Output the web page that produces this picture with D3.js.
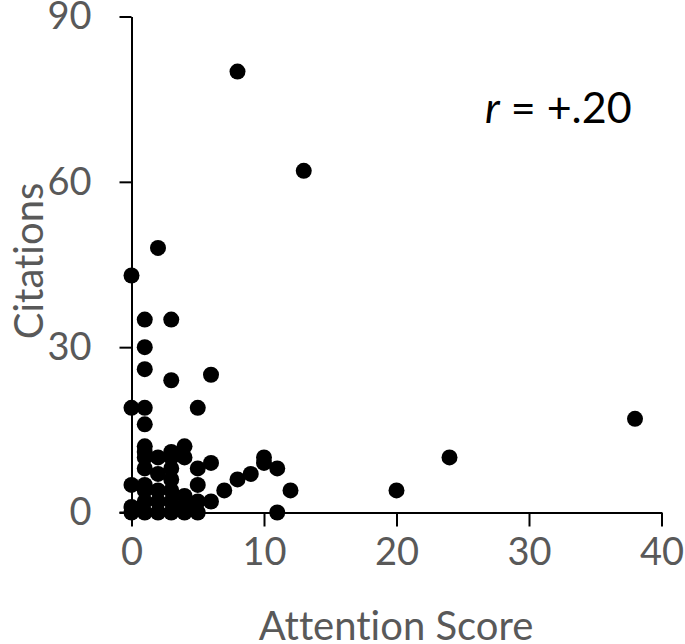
<!DOCTYPE html>
<html><head><meta charset="utf-8">
<script src="https://cdn.jsdelivr.net/npm/d3@7"></script>
<style>body{margin:0;background:#fff} text{font-variant-ligatures:none}</style>
</head><body>
<svg id="c" width="685" height="644"></svg>
<script>
const attention = [0,0,0,0,0, 1,1,1,1,1,1,1,1,1,1,1,1,1, 2,2,2,2,2,2, 3,3,3,3,3,3,3,3,3, 4,4,4,4,4, 5,5,5,5,5, 6,6,6, 7, 8,8, 9, 10,10, 11,11, 12, 13, 20, 24, 38];
const citations = [0,1,5,19,43, 0,2,4,5,8,10,11,12,16,19,26,30,35, 0,2,4,7,10,48, 0,2,4,6,8,10,11,24,35, 0,1,3,10,12, 0,2,5,8,19, 2,9,25, 4, 6,80, 7, 9,10, 0,8, 4, 62, 4, 10, 17];
const xTicks = [0,10,20,30,40];
const yTicks = [0,30,60,90];
const xTitle = "Attention Score", yTitle = "Citations";

const svg = d3.select("#c");
const x = d3.scaleLinear().domain([0,40]).range([131.5,661.5]);
const y = d3.scaleLinear().domain([0,90]).range([512.5,16.5]);
const grey = "#595959", font = "Lato, 'Open Sans', sans-serif";

const xa = svg.append("g").attr("transform","translate(0,512.5)")
  .call(d3.axisBottom(x).tickValues(xTicks).tickSize(14).tickPadding(12).tickSizeOuter(0));
const ya = svg.append("g").attr("transform","translate(131.5,0)")
  .call(d3.axisLeft(y).tickValues(yTicks).tickSize(12).tickPadding(28).tickSizeOuter(0));
[xa,ya].forEach(a=>{
  a.select(".domain").attr("stroke","#000").attr("stroke-width",2);
  a.selectAll(".tick line").attr("stroke","#000").attr("stroke-width",2);
  a.selectAll(".tick text").attr("fill",grey).attr("font-family",font).attr("font-size",38);
});
svg.append("line").attr("x1",119.5).attr("x2",131.5).attr("y1",512.5).attr("y2",512.5).attr("stroke","#000").attr("stroke-width",2);

svg.append("g").selectAll("circle").data(attention.map((a,i)=>[a,citations[i]])).join("circle")
  .attr("cx",d=>x(d[0])).attr("cy",d=>y(d[1])).attr("r",8).attr("fill","#000");

svg.append("text").attr("x",396).attr("y",640).attr("text-anchor","middle")
  .attr("fill",grey).attr("font-family",font).attr("font-size",40).text(xTitle);
svg.append("text").attr("transform","translate(43,261) rotate(-90)").attr("text-anchor","middle")
  .attr("fill",grey).attr("font-family",font).attr("font-size",40).text(yTitle);

const t = svg.append("text").attr("x",485).attr("y",123).attr("font-family",font).attr("font-size",43).attr("fill","#000");
t.append("tspan").attr("font-style","italic").text("r");
t.append("tspan").text(" = +.20");
</script>
</body></html>
